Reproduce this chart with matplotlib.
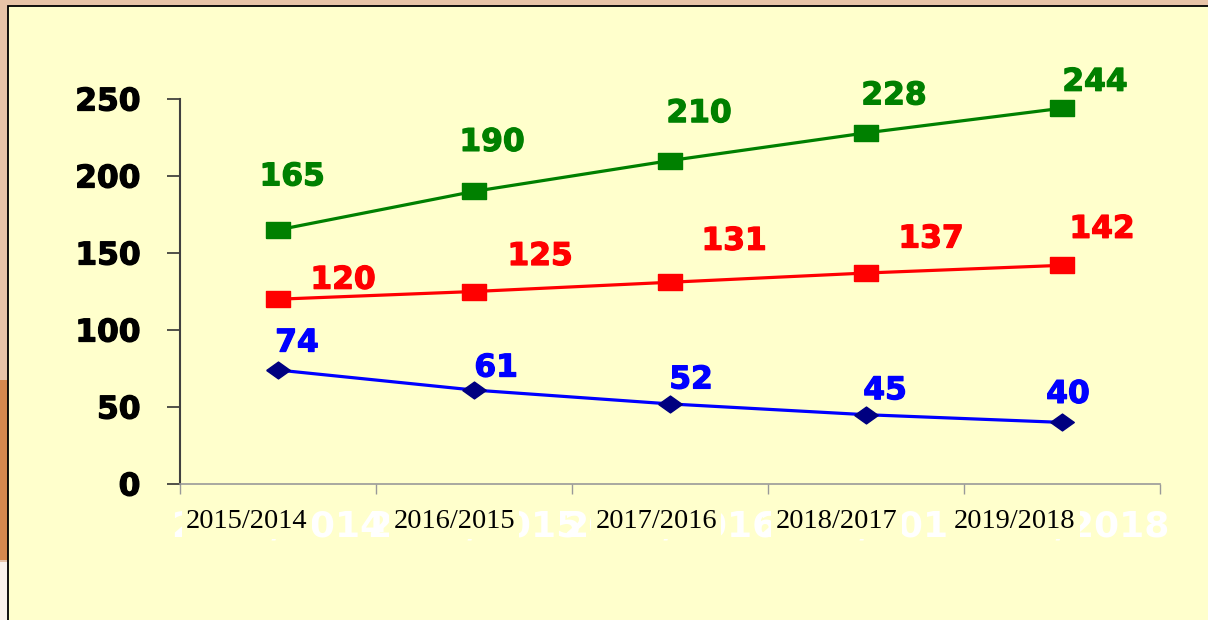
import matplotlib
matplotlib.use("Agg")
import matplotlib.pyplot as plt
import matplotlib.patheffects as pe
from matplotlib.patches import Rectangle

# data
periods = ["2015/2014", "2016/2015", "2017/2016", "2018/2017", "2019/2018"]
green_vals = [165, 190, 210, 228, 244]
red_vals = [120, 125, 131, 137, 142]
blue_vals = [74, 61, 52, 45, 40]
y_ticks = [0, 50, 100, 150, 200, 250]

W, H = 1208, 620
PANEL = "#FFFFCC"
fig = plt.figure(figsize=(W / 100, H / 100), dpi=100)
fig.patch.set_facecolor("#E8C4A8")

# slide panel + orange edge blob
fig.patches.append(Rectangle((0, 60 / H), 8 / W, 180 / H, transform=fig.transFigure,
                             facecolor="#D4884E", edgecolor="none", zorder=0))
fig.patches.append(Rectangle((0, 0), 8 / W, 58 / H, transform=fig.transFigure,
                             facecolor="#FBF3EC", edgecolor="none", zorder=0))
fig.patches.append(Rectangle((8 / W, -0.01), 1.0, (H - 6) / H + 0.01, transform=fig.transFigure,
                             facecolor=PANEL, edgecolor="black", linewidth=1.3, zorder=1))

ax = fig.add_axes([180 / W, 1 - 484 / H, (1160 - 180) / W, (484 - 99) / H])
ax.set_facecolor("none")
ax.set_zorder(2)

x = [i + 0.5 for i in range(len(periods))]
square = [(-1.55, -1), (1.55, -1), (1.55, 1), (-1.55, 1), (-1.55, -1)]
diamond = [(-1.4, 0), (0, 1), (1.4, 0), (0, -1), (-1.4, 0)]

ax.plot(x, green_vals, color="#008000", lw=2.3, marker=square, ms=17,
        mfc="#008000", mec="#008000", clip_on=False, zorder=3)
ax.plot(x, red_vals, color="#FF0000", lw=2.3, marker=square, ms=17,
        mfc="#FF0000", mec="#FF0000", clip_on=False, zorder=3)
ax.plot(x, blue_vals, color="#0000FF", lw=2.3, marker=diamond, ms=17,
        mfc="#000080", mec="#000080", clip_on=False, zorder=3)

def heavy(col):
    return [pe.withStroke(linewidth=0.9, foreground=col)]

lab_font = dict(fontfamily="DejaVu Sans", fontweight="bold", fontsize=22.5,
                ha="center", va="center")
# label offsets in pixels (dx, dy up)
g_off = [(14, 53), (18, 49), (29, 47), (28, 37), (33, 26)]
r_off = [(65, 19), (66, 35), (64, 41), (65, 34), (40, 36)]
b_off = [(19, 27), (22, 22), (21, 24), (19, 24), (6, 28)]
for vals, offs, col in [(green_vals, g_off, "#008000"), (red_vals, r_off, "#FF0000"),
                        (blue_vals, b_off, "#0000FF")]:
    for xi, v, (dx, dy) in zip(x, vals, offs):
        ax.annotate(str(v), (xi, v), xytext=(dx * 0.72, dy * 0.72),
                    textcoords="offset points", color=col, annotation_clip=False,
                    zorder=4, path_effects=heavy(col), **lab_font)

ax.set_xlim(0, 5)
ax.set_ylim(0, 250)
ax.set_yticks(y_ticks)
ax.set_yticklabels([str(t) for t in y_ticks], fontfamily="DejaVu Sans",
                   fontweight="bold", fontsize=22.5, path_effects=heavy("black"))
ax.tick_params(axis="y", direction="out", length=9.5, width=1.2, color="#333333", pad=19)

ax.set_xticks(range(len(periods) + 1))
ax.set_xticklabels([])
ax.tick_params(axis="x", direction="out", length=7, width=1, color="#999999")

for s in ["top", "right"]:
    ax.spines[s].set_visible(False)
ax.spines["left"].set_color("#404040")
ax.spines["left"].set_linewidth(1.5)
ax.spines["bottom"].set_color("#999999")
ax.spines["bottom"].set_linewidth(1.2)

# category labels: white ghost copy underneath, black serif label on a panel-coloured box
trans = ax.get_xaxis_transform()
ghost_y = -(526 - 484) / (484 - 99)
label_y = -(522 - 484) / (484 - 99)
label_dx = [-0.16, -0.10, -0.07, -0.15, -0.24]
for xi, p, dx in zip(x, periods, label_dx):
    ax.text(xi, ghost_y, p, transform=trans, ha="center", va="center", color="white",
            fontfamily="DejaVu Sans", fontweight="bold", fontsize=26, zorder=1)
    ax.text(xi + dx, label_y, p, transform=trans, ha="center", va="center", color="black",
            fontfamily="Liberation Serif", fontsize=20.5, zorder=5,
            bbox=dict(boxstyle="square,pad=0.15", facecolor=PANEL, edgecolor="none"))

fig.savefig("out.png", dpi=100, facecolor=fig.get_facecolor())
